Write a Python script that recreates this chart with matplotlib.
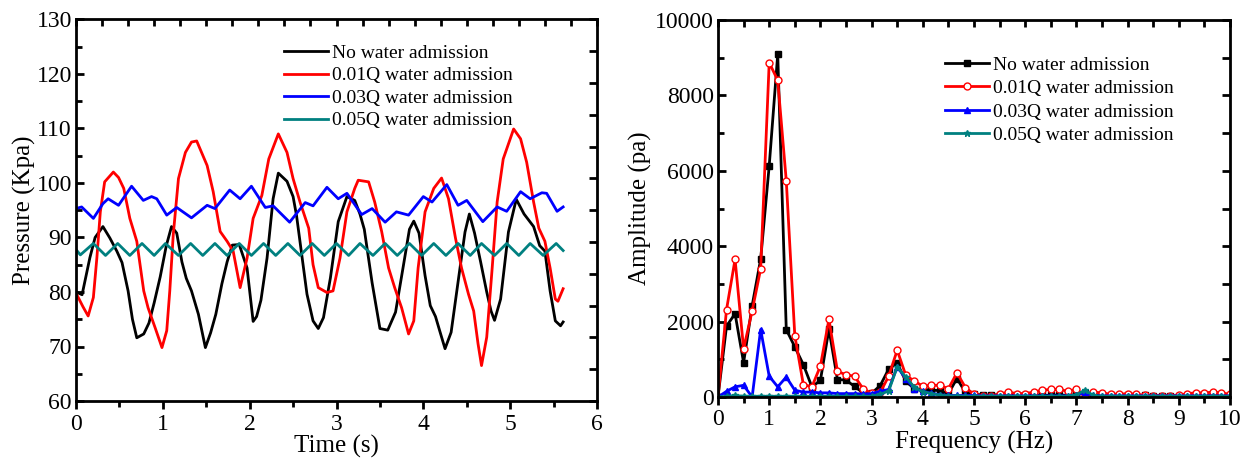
import numpy as np
import matplotlib
matplotlib.use("Agg")
import matplotlib.pyplot as plt

plt.rcParams['font.family'] = ['Liberation Serif', 'DejaVu Serif']
plt.rcParams['mathtext.fontset'] = 'stix'

# TIME SERIES (left panel)
# -------------------------
t_none = [0, 0.07, 0.16, 0.22, 0.31, 0.39, 0.47, 0.53, 0.60, 0.65, 0.70, 0.78, 0.84, 0.90, 0.97,
          1.04, 1.10, 1.16, 1.22, 1.27, 1.33, 1.41, 1.49, 1.55, 1.61, 1.68, 1.74, 1.80, 1.88, 1.97,
          2.04, 2.08, 2.13, 2.20, 2.27, 2.33, 2.43, 2.50, 2.54, 2.58, 2.66, 2.73, 2.79, 2.85, 2.93,
          3.02, 3.12, 3.21, 3.27, 3.32, 3.41, 3.50, 3.59, 3.68, 3.77, 3.84, 3.89, 3.95, 4.02, 4.08,
          4.14, 4.19, 4.25, 4.32, 4.41, 4.48, 4.53, 4.59, 4.66, 4.73, 4.78, 4.82, 4.89, 4.98, 5.07,
          5.16, 5.27, 5.34, 5.40, 5.46, 5.52, 5.58, 5.61]
p_none = [80.0, 79.5, 86.3, 90.0, 92.0, 89.9, 87.5, 85.4, 80.2, 75.0, 71.6, 72.3, 74.3, 78.0, 82.8,
          88.5, 92.0, 90.8, 85.5, 82.5, 80.2, 75.9, 69.8, 72.5, 75.9, 81.5, 85.5, 88.6, 88.7, 84.4,
          74.6, 75.5, 78.5, 86.2, 97.1, 101.8, 100.3, 97.5, 94.0, 89.2, 79.6, 74.7, 73.3, 75.3, 82.6,
          92.9, 97.5, 96.8, 94.3, 91.5, 81.7, 73.3, 73.0, 76.3, 84.8, 91.5, 93.0, 90.8, 83.0, 77.5,
          75.5, 72.8, 69.6, 72.6, 83.0, 91.0, 94.3, 90.8, 85.5, 80.0, 76.5, 74.8, 78.7, 91.0, 97.0,
          94.3, 92.0, 88.5, 87.5, 80.2, 74.7, 73.8, 74.5]

t_001 = [0, 0.08, 0.14, 0.20, 0.24, 0.28, 0.33, 0.43, 0.49, 0.55, 0.62, 0.70, 0.78, 0.83, 0.91,
         0.99, 1.045, 1.08, 1.12, 1.18, 1.26, 1.33, 1.39, 1.51, 1.58, 1.66, 1.74, 1.81, 1.89, 1.97,
         2.04, 2.14, 2.22, 2.33, 2.43, 2.50, 2.58, 2.68, 2.73, 2.79, 2.89, 2.96, 3.04, 3.12, 3.21,
         3.25, 3.37, 3.44, 3.52, 3.60, 3.67, 3.75, 3.83, 3.89, 3.94, 4.02, 4.12, 4.21, 4.29, 4.37,
         4.44, 4.52, 4.58, 4.63, 4.67, 4.73, 4.79, 4.85, 4.92, 5.04, 5.12, 5.19, 5.27, 5.33, 5.40,
         5.46, 5.52, 5.55, 5.61]
p_001 = [79.8, 77.3, 75.6, 79.0, 86.2, 94.7, 100.2, 102.0, 101.0, 99.0, 93.5, 89.3, 80.2, 77.1, 73.5,
         69.8, 72.9, 80.2, 90.5, 100.8, 105.6, 107.5, 107.7, 103.2, 98.4, 91.1, 89.3, 87.5, 80.8, 86.2,
         93.5, 97.7, 104.4, 109.0, 105.6, 100.8, 96.5, 91.7, 85.0, 80.8, 79.9, 80.2, 86.2, 94.7, 99.0,
         100.5, 100.2, 96.5, 91.1, 84.4, 80.8, 77.1, 72.3, 74.7, 84.4, 94.7, 99.0, 100.9, 97.1, 89.9,
         84.4, 79.6, 76.5, 70.5, 66.5, 71.7, 83.8, 96.5, 104.4, 109.9, 108.1, 103.8, 96.5, 91.7, 89.3,
         84.4, 78.7, 78.3, 80.6]

t_003 = [0, 0.065, 0.20, 0.31, 0.37, 0.49, 0.64, 0.775, 0.87, 0.93, 1.045, 1.16, 1.33, 1.51, 1.60,
         1.77, 1.89, 2.02, 2.18, 2.27, 2.46, 2.64, 2.73, 2.89, 3.02, 3.12, 3.29, 3.41, 3.56, 3.69,
         3.83, 4.00, 4.10, 4.27, 4.40, 4.50, 4.685, 4.85, 4.96, 5.12, 5.23, 5.365, 5.42, 5.54, 5.61]
p_003 = [95.3, 95.6, 93.5, 96.2, 97.1, 95.9, 99.4, 96.8, 97.5, 97.1, 94.1, 95.5, 93.6, 95.9, 95.3,
         98.7, 97.1, 99.4, 95.5, 95.8, 92.8, 96.4, 95.8, 99.2, 97.1, 98.1, 94.2, 95.3, 92.8, 94.7,
         94.1, 97.5, 96.5, 99.7, 95.9, 96.8, 92.9, 95.6, 94.8, 98.4, 97.1, 98.2, 98.1, 94.8, 95.6]

t_005 = [0, 0.05, 0.20, 0.34, 0.48, 0.62, 0.76, 0.90, 1.03, 1.18, 1.32, 1.46, 1.60, 1.74, 1.88,
         2.02, 2.16, 2.30, 2.44, 2.58, 2.72, 2.86, 3.00, 3.14, 3.27, 3.42, 3.56, 3.70, 3.84, 3.98,
         4.12, 4.26, 4.40, 4.54, 4.67, 4.82, 4.96, 5.10, 5.23, 5.38, 5.53, 5.61]
p_005 = [87.8, 86.8, 88.9, 86.7, 88.9, 86.7, 88.9, 86.7, 88.9, 86.7, 88.9, 86.7, 88.9, 86.7, 88.9,
         86.7, 88.9, 86.7, 88.9, 86.7, 88.9, 86.7, 88.9, 86.7, 88.9, 86.7, 88.9, 86.7, 88.9, 86.7,
         88.9, 86.7, 88.9, 86.7, 88.9, 86.7, 88.9, 86.7, 88.9, 86.7, 88.9, 87.6]

# SPECTRUM (right panel), one value every 1/6 Hz
# -------------------------
freq = np.arange(61) / 6.0
a_none = [0, 1880, 2210, 910, 2420, 3660, 6130, 9090, 1790, 1330, 860, 270, 440, 1800, 460,
          450, 280, 110, 100, 300, 740, 900, 420, 220, 200, 180, 170, 90, 490, 120,
          80, 50, 50, 60, 50, 40, 50, 40, 50, 40, 50, 40, 60, 110, 50,
          40, 40, 30, 40, 30, 40, 30, 30, 30, 30, 30, 30, 40, 30, 30, 30]
a_001 = [0, 2320, 3650, 1280, 2280, 3400, 8870, 8400, 5740, 1630, 330, 270, 820, 2060, 680,
         590, 550, 220, 100, 120, 550, 1240, 580, 420, 290, 310, 310, 220, 640, 250,
         70, 30, 30, 70, 130, 90, 90, 130, 180, 200, 200, 150, 200, 30, 130,
         110, 70, 70, 90, 70, 45, 30, 30, 30, 45, 90, 110, 110, 130, 110, 70]
a_003 = [0, 150, 270, 310, 0, 1790, 550, 270, 530, 180, 130, 130, 110, 110, 90,
         90, 90, 80, 90, 150, 200, 800, 490, 220, 150, 100, 60, 40, 40, 40,
         40, 30, 30, 30, 30, 30, 30, 30, 30, 30, 30, 30, 50, 120, 40,
         30, 30, 30, 30, 30, 30, 30, 30, 30, 30, 30, 30, 30, 30, 30, 30]
a_005 = [0, 20, 40, 20, 20, 20, 20, 20, 20, 20, 20, 20, 20, 20, 20,
         20, 20, 20, 20, 70, 160, 800, 530, 260, 140, 90, 50, 30, 30, 20,
         20, 20, 20, 20, 20, 20, 20, 20, 20, 20, 20, 20, 60, 180, 40,
         20, 20, 20, 20, 20, 20, 20, 20, 20, 20, 20, 20, 20, 20, 20, 20]

labels = ["No water admission", "0.01Q water admission",
          "0.03Q water admission", "0.05Q water admission"]
colors = ["black", "#ff0000", "#0000ff", "#008080"]

TICK_FS = 17
LABEL_FS = 18
LEG_FS = 14


def style_axes(ax):
    for s in ax.spines.values():
        s.set_linewidth(2)
    ax.tick_params(which='both', direction='in', width=2, labelsize=TICK_FS, pad=3)
    ax.tick_params(axis='x', which='both', direction='out')
    ax.tick_params(which='major', length=6)
    ax.tick_params(which='minor', length=4)


fig = plt.figure(figsize=(12.5, 4.62), dpi=100)

# LEFT
# -------------------------
ax1 = fig.add_axes([0.0608, 0.132, 0.4168, 0.826])
series_t = [(t_none, p_none), (t_001, p_001), (t_003, p_003), (t_005, p_005)]
for (t, p), c, lab in zip(series_t, colors, labels):
    ax1.plot(t, p, color=c, lw=2, label=lab)
ax1.set_xlim(0, 6)
ax1.set_ylim(60, 130)
ax1.set_xticks(range(7))
ax1.set_xticks(np.arange(0, 6.01, 0.5), minor=True)
ax1.set_yticks(range(60, 131, 10))
ax1.set_yticks(range(60, 131, 5), minor=True)
ax1.set_xlabel("Time (s)", fontsize=LABEL_FS, labelpad=0)
ax1.set_ylabel("Pressure (Kpa)", fontsize=LABEL_FS, labelpad=0)
style_axes(ax1)
top1 = ax1.secondary_xaxis('top')
top1.set_xticks(np.linspace(0, 6, 21))
top1.set_xticklabels([])
top1.tick_params(direction='in', length=5, width=2)
right1 = ax1.secondary_yaxis('right')
right1.set_yticks(np.linspace(60, 130, 13))
right1.set_yticklabels([])
right1.tick_params(direction='in', length=6, width=2)
leg1 = ax1.legend(loc='upper left', bbox_to_anchor=(0.385, 0.955), frameon=False,
                  fontsize=LEG_FS, handlelength=2.25, handletextpad=0.2,
                  labelspacing=0.25, borderaxespad=0)

# RIGHT
# -------------------------
ax2 = fig.add_axes([0.5744, 0.1407, 0.4096, 0.816])
amps = [a_none, a_001, a_003, a_005]
markers = [dict(marker='s', ms=4, mfc='black', mec='black'),
           dict(marker='o', ms=5, mfc='white', mec='#ff0000', mew=1),
           dict(marker='^', ms=5, mfc='#0000ff', mec='#0000ff'),
           dict(marker='*', ms=5, mfc='#008080', mec='#008080')]
for a, c, lab, mk in zip(amps, colors, labels, markers):
    ax2.plot(freq, a, color=c, lw=2, label=lab, **mk)
ax2.set_xlim(0, 10)
ax2.set_ylim(0, 10000)
ax2.set_xticks(range(11))
ax2.set_xticks(np.arange(0, 10.01, 0.5), minor=True)
ax2.set_yticks(range(0, 10001, 2000))
ax2.set_yticks(range(0, 10001, 1000), minor=True)
ax2.set_xlabel("Frequency (Hz)", fontsize=LABEL_FS, labelpad=0)
ax2.set_ylabel("Amplitude (pa)", fontsize=LABEL_FS, labelpad=2)
style_axes(ax2)
top2 = ax2.secondary_xaxis('top')
top2.set_xticks(np.arange(0, 10.01, 0.5))
top2.set_xticklabels([])
top2.tick_params(direction='in', length=5, width=2)
right2 = ax2.secondary_yaxis('right')
right2.set_yticks(range(0, 10001, 1000))
right2.set_yticklabels([])
right2.tick_params(direction='in', length=6, width=2)
leg2 = ax2.legend(loc='upper left', bbox_to_anchor=(0.428, 0.925), frameon=False,
                  fontsize=LEG_FS, handlelength=2.25, handletextpad=0.2,
                  labelspacing=0.3, borderaxespad=0)

fig.savefig("out.png", dpi=100)
